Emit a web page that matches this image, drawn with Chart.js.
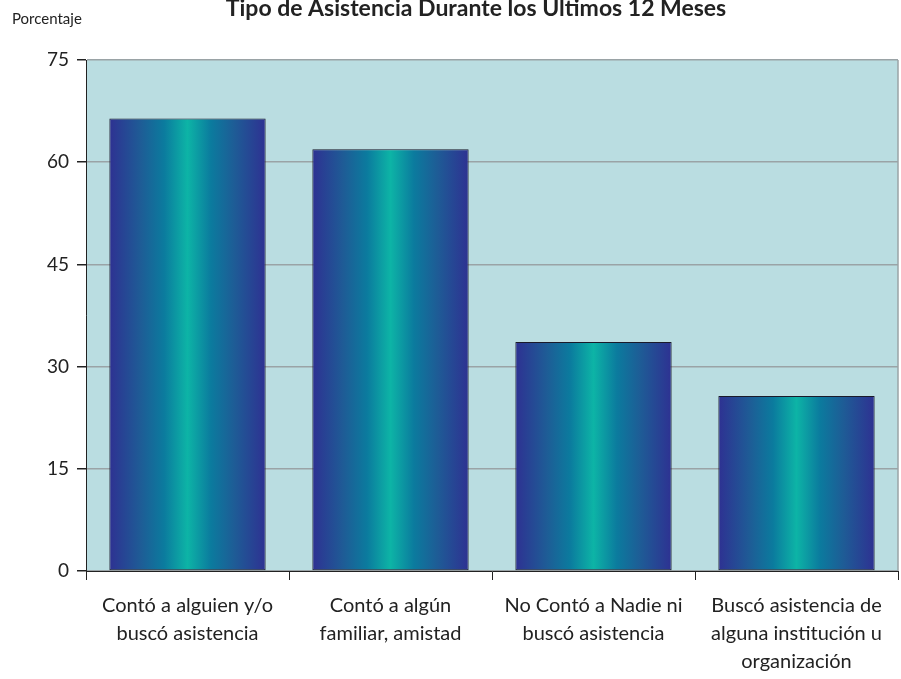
<!DOCTYPE html>
<html lang="es">
<head>
    <meta charset="UTF-8">
    <title>Tipo de Asistencia</title>
    <style>
        body { margin: 0; background: #ffffff; }
        #wrap { width: 901px; height: 679px; }
    </style>
    <script src="https://cdn.jsdelivr.net/npm/chart.js"></script>
</head>
<body>
    <div id="wrap"><canvas id="chart" width="901" height="679"></canvas></div>
    <script>
        // datos
        const categorias = [
            ['Contó a alguien y/o', 'buscó asistencia'],
            ['Contó a algún', 'familiar, amistad'],
            ['No Contó a Nadie ni', 'buscó asistencia'],
            ['Buscó asistencia de', 'alguna institución u', 'organización']
        ];
        const porcentajes = [66.4, 61.9, 33.6, 25.7];
        const titulo = 'Tipo de Asistencia Durante los Últimos 12 Meses';
        const etiquetaY = 'Porcentaje';

        const FONT = 'Lato, "Open Sans", sans-serif';
        const BAR_PCT = 0.77;

        // degradado horizontal de cada barra
        function barGradient(ctx) {
            const chart = ctx.chart;
            const x = chart.scales.x;
            if (!chart.chartArea || !x || ctx.dataIndex === undefined) return '#0b7ba0';
            const center = x.getPixelForValue(ctx.dataIndex);
            const half = (chart.chartArea.width / categorias.length) * BAR_PCT / 2;
            const g = chart.ctx.createLinearGradient(center - half, 0, center + half, 0);
            g.addColorStop(0, '#2e3192');
            g.addColorStop(0.2, '#1e5c96');
            g.addColorStop(0.35, '#0b7b9e');
            g.addColorStop(0.5, '#0db4a6');
            g.addColorStop(0.65, '#0b7b9e');
            g.addColorStop(0.8, '#1e5c96');
            g.addColorStop(1, '#2e3192');
            return g;
        }

        const fondo = {
            id: 'fondo',
            beforeDraw(chart) {
                const a = chart.chartArea, c = chart.ctx;
                c.save();
                c.fillStyle = '#badde1';
                c.fillRect(a.left, a.top, a.width, a.height);
                c.restore();
            },
            afterDraw(chart) {
                const a = chart.chartArea, c = chart.ctx;
                c.save();
                c.strokeStyle = '#9aa3a6';
                c.lineWidth = 1.5;
                c.beginPath();
                c.moveTo(a.right, a.top);
                c.lineTo(a.right, a.bottom);
                c.stroke();
                c.fillStyle = '#222';
                c.textBaseline = 'middle';
                c.font = 'bold 23px ' + FONT;
                c.textAlign = 'center';
                c.fillText(titulo, 476, 9);
                c.font = '15px ' + FONT;
                c.textAlign = 'left';
                c.fillText(etiquetaY, 12, 19);
                c.restore();
            }
        };

        new Chart(document.getElementById('chart'), {
            type: 'bar',
            data: {
                labels: categorias,
                datasets: [{
                    data: porcentajes,
                    backgroundColor: barGradient,
                    borderColor: '#1a1a2a',
                    borderWidth: 1,
                    borderSkipped: false,
                    barPercentage: BAR_PCT,
                    categoryPercentage: 1
                }]
            },
            options: {
                responsive: false,
                animation: false,
                layout: { padding: { top: 60, right: 3, left: 0, bottom: 0 } },
                plugins: {
                    legend: { display: false },
                    tooltip: { enabled: false }
                },
                scales: {
                    x: {
                        afterFit(scale) { scale.height = 108; },
                        grid: { drawOnChartArea: false, tickLength: 9, tickColor: '#222', offset: true },
                        border: { color: '#222', width: 1 },
                        ticks: {
                            color: '#222',
                            font: { family: FONT, size: 20, lineHeight: 1.4 },
                            maxRotation: 0,
                            padding: 12
                        }
                    },
                    y: {
                        min: 0,
                        max: 75,
                        afterFit(scale) { scale.width = 86; },
                        ticks: {
                            stepSize: 15,
                            color: '#222',
                            font: { family: FONT, size: 19 },
                            padding: 8
                        },
                        grid: { color: '#9aa3a6', lineWidth: 1.5, tickLength: 9, tickColor: '#222' },
                        border: { color: '#222', width: 1 }
                    }
                }
            },
            plugins: [fondo]
        });
    </script>
</body>
</html>
